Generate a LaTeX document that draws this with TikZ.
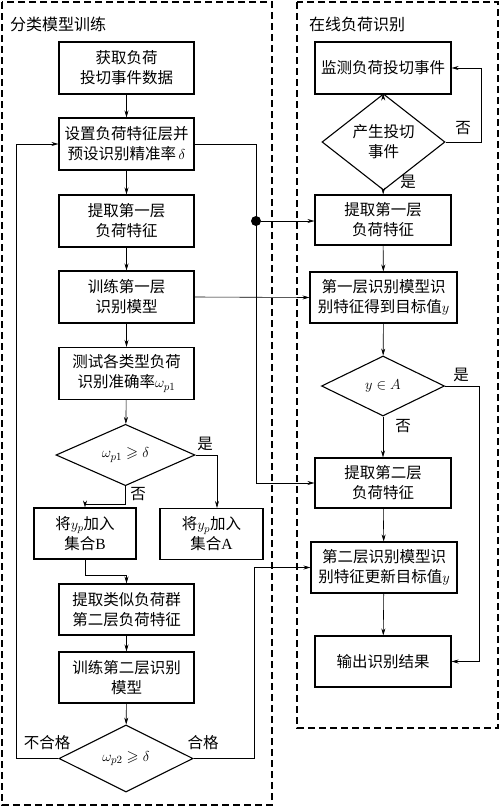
\documentclass[tikz,border=0pt]{standalone}
\usepackage{amssymb}
\usepackage{fontspec}
\setmainfont{Liberation Serif}
\newfontfamily\cjk{Noto Sans CJK SC}
\usetikzlibrary{arrows.meta,shapes.geometric,positioning}

\begin{document}
\begin{tikzpicture}[x=1pt,y=-1pt,
  box/.style={draw,line width=1.1pt,minimum width=135pt,minimum height=52pt,align=center,inner sep=1pt,font={\cjk\fontsize{15.5}{20}\selectfont}},
  dec/.style={draw,diamond,line width=1.1pt,inner sep=0pt,align=center,font={\cjk\fontsize{15.5}{20}\selectfont}},
  lab/.style={font={\cjk\fontsize{15.5}{18}\selectfont},inner sep=0pt},
  ttl/.style={font={\cjk\fontsize{16}{18}\selectfont},anchor=west,inner sep=0pt},
  flow/.style={-{Stealth[length=7pt,width=4pt]},line width=0.6pt},
  frame/.style={dash pattern=on 7pt off 4pt,line width=1.5pt},
  jdot/.style={fill=black,circle,minimum size=10pt,inner sep=0pt}]
\useasboundingbox (0,0) rectangle (500,806);

\draw[frame] (2,2) rectangle (272,805);
\draw[frame] (297,2) rectangle (498,728);
\node[ttl] (ltitle) at (10,24) {分类模型训练};
\node[ttl] (rtitle) at (309,24) {在线负荷识别};

% training column
\node[box] (l1) at (126.5,68) {获取负荷\\投切事件数据};
\node[box] (l2) at (126.5,144) {设置负荷特征层并\\预设识别精准率\,$\delta$};
\node[box] (l3) at (126.5,221) {提取第一层\\负荷特征};
\node[box] (l4) at (126.5,297) {训练第一层\\识别模型};
\node[box] (l5) at (126.5,373.5) {测试各类型负荷\\识别准确率$\omega_{p1}$};
\node[dec,minimum width=139pt,minimum height=54pt] (d1) at (125.5,455) {$\omega_{p1}\geqslant\delta$};
\node[box,minimum width=102pt,minimum height=51pt] (sb) at (85,533.5) {将$y_p$加入\\集合{\rmfamily B}};
\node[box,minimum width=103pt,minimum height=51pt] (sa) at (211.5,534) {将$y_p$加入\\集合{\rmfamily A}};
\node[box,minimum height=51pt] (l6) at (126.5,609.5) {提取类似负荷群\\第二层负荷特征};
\node[box,minimum height=51pt] (l7) at (126.5,677.5) {训练第二层识别\\模型};
\node[dec,minimum width=134pt,minimum height=67pt] (d2) at (126,758.5) {$\omega_{p2}\geqslant\delta$};

% online column
\node[box,minimum width=136pt] (r1) at (383,68) {监测负荷投切事件};
\node[dec,minimum width=123pt,minimum height=60pt] (rd1) at (383.5,142) {产生投切\\事件};
\node[box,minimum width=136pt,minimum height=50pt] (r2) at (383,220) {提取第一层\\负荷特征};
\node[box,minimum width=147pt,minimum height=51pt] (r3) at (383.5,297.5) {第一层识别模型识\\别特征得到目标值$y$};
\node[dec,minimum width=123pt,minimum height=60pt] (rd2) at (383,386) {$y\in A$};
\node[box,minimum width=136pt,minimum height=50pt] (r4) at (383,483) {提取第二层\\负荷特征};
\node[box,minimum width=146pt,minimum height=51pt] (r5) at (384,567.5) {第二层识别模型识\\别特征更新目标值$y$};
\node[box,minimum width=136pt,minimum height=51pt] (r6) at (383,661.5) {输出识别结果};

% branch labels
\node[lab] (yes1) at (205,444) {是};
\node[lab] (no1) at (138,494) {否};
\node[lab] (fail) at (47,743) {不合格};
\node[lab] (pass) at (203,743) {合格};
\node[lab] (no2) at (463,128) {否};
\node[lab] (yes2) at (408,182) {是};
\node[lab] (yes3) at (461,375) {是};
\node[lab] (no3) at (403,426) {否};
\node[jdot] (jn) at (256,221) {};

\draw[flow] (l1) -- (l2);
\draw[flow] (l2) -- (l3);
\draw[flow] (l3) -- (l4);
\draw[flow] (l4) -- (l5);
\draw[flow] (l5) -- (d1);
\draw[flow] (d1.east) -| ([xshift=5.5pt]sa.north);
\draw[flow] (d1.south) -- ++(0,18) -| (sb.north);
\draw[flow] (sb.south) -- ++(0,16) -| (l6.north);
\draw[flow] (l6) -- (l7);
\draw[flow] (l7) -- (d2);
\draw[flow] (d2.west) -- ++(-42,0) |- (l2.west);
\draw[flow] (d2.east) -- ++(61,0) |- (r5.west);
\draw[flow] (l2.east) -- ++(62,0) |- (r4.west);
\draw[flow] (jn) -- (jn -| r2.west);
\draw[flow] (l4.east) -- (r3.west);

\draw[flow] (r1) -- (rd1);
\draw[flow] (rd1.east) -- ++(36,0) |- (r1.east);
\draw[flow] (rd1) -- (r2);
\draw[flow] (r2) -- (r3);
\draw[flow] (r3) -- (rd2);
\draw[flow] (rd2.east) -- ++(34,0) |- (r6.east);
\draw[flow] (rd2) -- (r4);
\draw[flow] (r4) -- (r5);
\draw[flow] (r5) -- (r6);
\end{tikzpicture}
\end{document}
